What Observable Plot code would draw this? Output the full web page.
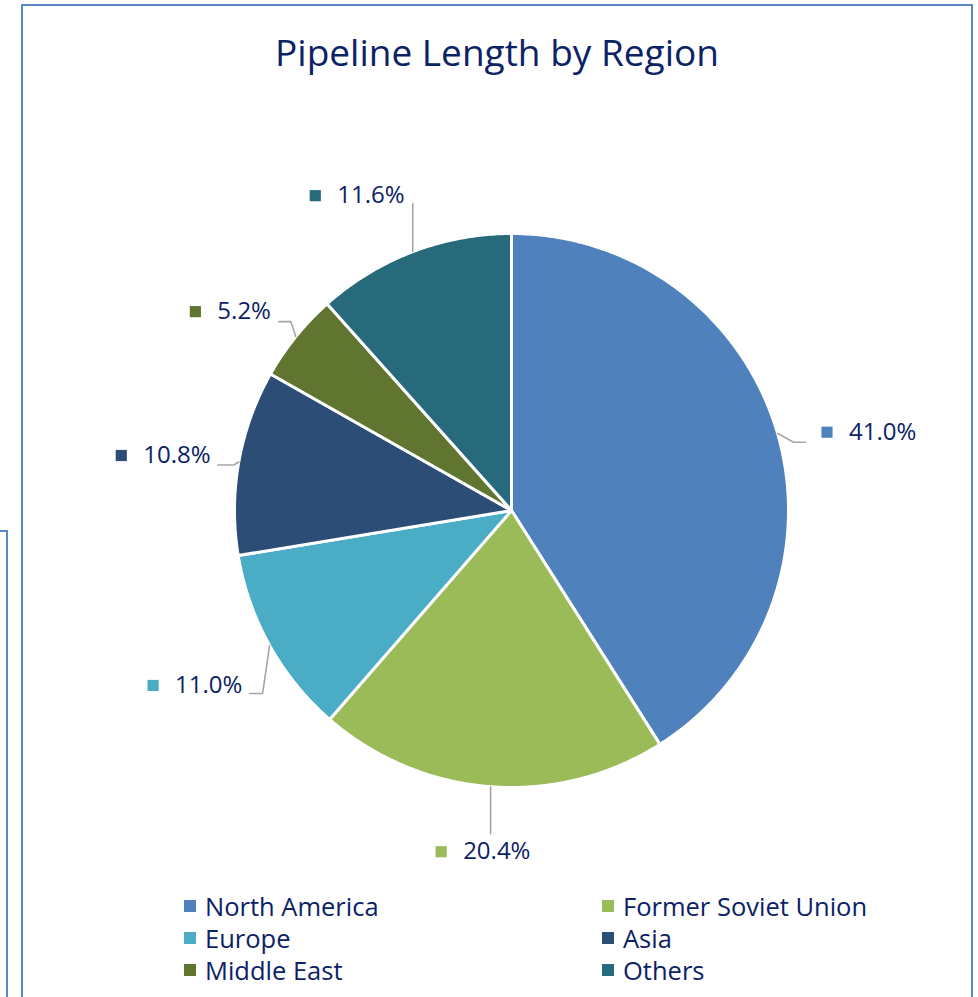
<!DOCTYPE html>
<html>
<head>
<meta charset="utf-8">
<script src="https://cdn.jsdelivr.net/npm/d3@7"></script>
<script src="https://cdn.jsdelivr.net/npm/@observablehq/plot@0.6"></script>
<style>
  html, body { margin: 0; padding: 0; background: #fff; }
  body { width: 978px; height: 997px; overflow: hidden; position: relative; font-family: "Open Sans", Lato, sans-serif; }
  #frame { position: absolute; left: 21px; top: 4px; width: 952px; height: 1010px; border: 2px solid #5B88C6; box-sizing: border-box; }
  #side { position: absolute; left: 6px; top: 530px; width: 2px; height: 480px; background: #5B88C6; }
  #stub { position: absolute; left: 0; top: 530px; width: 8px; height: 2px; background: #5B88C6; }
  #title { position: absolute; left: 21px; width: 952px; top: 27px; text-align: center; font-size: 37px; color: #0B2265; line-height: 50px; }
  #chart { position: absolute; left: 0; top: 0; }
  .lg { position: absolute; display: flex; align-items: center; font-size: 25.5px; color: #0B2265; line-height: 30px; white-space: nowrap; }
  .lg .sw { width: 12px; height: 12px; margin-right: 9px; }
</style>
</head>
<body>
<div id="frame"></div>
<div id="side"></div>
<div id="stub"></div>
<div id="title">Pipeline Length by Region</div>
<div id="chart"></div>
<div id="legend"></div>
<script>
// ---- data ----
const regions = ["North America", "Former Soviet Union", "Europe", "Asia", "Middle East", "Others"];
const shares = [41.0, 20.4, 11.0, 10.8, 5.2, 11.6];
const colors = ["#4F81BD", "#9BBB59", "#4BACC6", "#2C4D75", "#5F7530", "#276A7C"];

// ---- layout (pixel offsets relative to each slice's outer mid-point) ----
const R = 277;
const leaderOffsets = [
  [[16, 9], [28, 9]],
  [[0, 47]],
  [[-7, 48], [-20, 48]],
  [[-5, 3], [-21, 3]],
  [[-5, -15], [-17, -15]],
  [[0, -48]]
];
const markerOffsets = [[49.5, -1], [-49.5, 65], [-116.5, 40], [-117.5, -6.5], [-100.5, -25], [-97.5, -56]];
const textGap = 22;

// ---- geometry ----
const total = d3.sum(shares);
let acc = 0;
const slices = regions.map((name, i) => {
  const a0 = acc / total * 2 * Math.PI;
  acc += shares[i];
  const a1 = acc / total * 2 * Math.PI;
  return {name, share: shares[i], a0, a1, mid: (a0 + a1) / 2};
});

const polys = slices.flatMap(s => {
  const n = Math.max(2, Math.ceil((s.a1 - s.a0) / (Math.PI / 360)));
  const pts = [{name: s.name, x: 0, y: 0}];
  for (let k = 0; k <= n; k++) {
    const a = s.a0 + (s.a1 - s.a0) * k / n;
    pts.push({name: s.name, x: Math.sin(a), y: Math.cos(a)});
  }
  return pts;
});

const leaders = slices.flatMap((s, i) => {
  const ex = Math.sin(s.mid), ey = Math.cos(s.mid);
  const pts = [{name: s.name, x: ex, y: ey}];
  leaderOffsets[i].forEach(([dx, dy]) => pts.push({name: s.name, x: ex + dx / R, y: ey - dy / R}));
  return pts;
});

const labels = slices.map((s, i) => {
  const ex = Math.sin(s.mid), ey = Math.cos(s.mid);
  const [dx, dy] = markerOffsets[i];
  return {
    name: s.name,
    x: ex + dx / R,
    tx: ex + (dx + textGap) / R,
    y: ey - dy / R,
    text: s.share.toFixed(1) + "%"
  };
});

const chart = Plot.plot({
  width: 978,
  height: 890,
  marginLeft: 234,
  marginRight: 190,
  marginTop: 233,
  marginBottom: 103,
  style: {background: "transparent", fontFamily: "'Open Sans', Lato, sans-serif"},
  x: {domain: [-1, 1], axis: null},
  y: {domain: [-1, 1], axis: null},
  color: {domain: regions, range: colors},
  marks: [
    Plot.line(polys, {x: "x", y: "y", z: "name", fill: "name", stroke: "white", strokeWidth: 3, curve: "linear-closed", strokeLinejoin: "round"}),
    Plot.line(leaders, {x: "x", y: "y", z: "name", stroke: "#A6A6A6", strokeWidth: 1.6}),
    Plot.dot(labels, {x: "x", y: "y", symbol: "square", fill: "name", r: 6.3}),
    Plot.text(labels, {x: "tx", y: "y", text: "text", textAnchor: "start", fill: "#0B2265", fontSize: 24})
  ]
});
document.getElementById("chart").appendChild(chart);

// ---- legend ----
const legend = document.getElementById("legend");
regions.forEach((name, i) => {
  const item = document.createElement("div");
  item.className = "lg";
  item.style.left = (184 + (i % 2) * 418) + "px";
  item.style.top = (891 + Math.floor(i / 2) * 32) + "px";
  const sw = document.createElement("span");
  sw.className = "sw";
  sw.style.background = colors[i];
  const tx = document.createElement("span");
  tx.textContent = name;
  item.appendChild(sw);
  item.appendChild(tx);
  legend.appendChild(item);
});
</script>
</body>
</html>
